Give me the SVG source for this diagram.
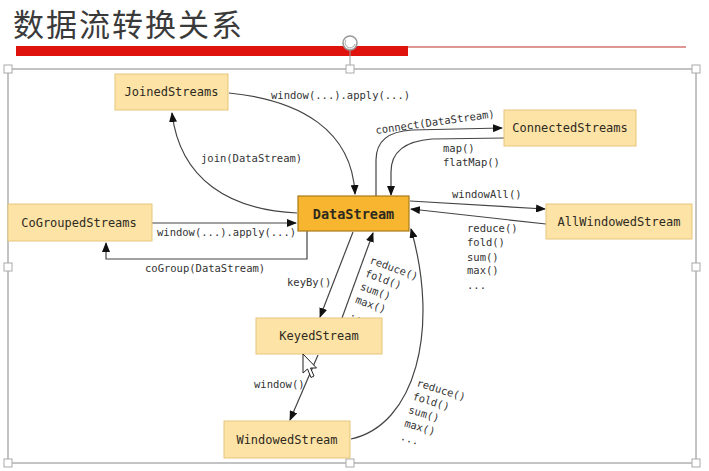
<svg xmlns="http://www.w3.org/2000/svg" width="709" height="471" viewBox="0 0 709 471">
<defs>
<style>
.node rect{fill:#FDE3A6;stroke:#E6C57C;stroke-width:1}
#DataStream rect{fill:#F8B630;stroke:#A87A18;stroke-width:1.2}
.node text{font-family:"DejaVu Sans Mono",monospace;font-size:12px;fill:#2e2a1e;text-anchor:middle;dominant-baseline:central}
#DataStream text{font-size:13.5px;font-weight:bold}
.conn path{fill:none;stroke:#444;stroke-width:1.2}
.lbl{font-family:"DejaVu Sans Mono",monospace;font-size:10.5px;fill:#333}
.handle{fill:#fff;stroke:#aaa;stroke-width:1}
.frame{fill:none;stroke:#b0b0b0;stroke-width:1.5}
</style>
<marker id="ah" markerWidth="10" markerHeight="8" refX="9" refY="4" orient="auto" markerUnits="userSpaceOnUse">
<path d="M0,0 L10,4 L0,8 z" fill="#111"/>
</marker>
</defs>
<rect width="709" height="471" fill="#fff"/>
<!-- title -->
<text x="13" y="36" font-family="'Noto Sans CJK SC',sans-serif" font-size="31" fill="#3a3a3a" letter-spacing="2">数据流转换关系</text>
<line x1="16" y1="47" x2="686" y2="47" stroke="#c0302a" stroke-width="1.2"/>
<rect x="16" y="46" width="392" height="10" fill="#e0120e"/>
<!-- frame -->
<rect class="frame" x="8" y="69" width="688" height="394"/>
<line x1="350" y1="50" x2="350" y2="69" stroke="#999" stroke-width="1"/>
<circle cx="350" cy="43" r="7" fill="#fff" stroke="#999" stroke-width="1.5"/>
<path d="M346,40 A5,5 0 1 0 355,44" fill="none" stroke="#bbb" stroke-width="1.2"/>
<g id="handles">
<rect class="handle" x="4" y="65" width="8" height="8"/>
<rect class="handle" x="346" y="65" width="8" height="8"/>
<rect class="handle" x="692" y="65" width="8" height="8"/>
<rect class="handle" x="4" y="263" width="8" height="8"/>
<rect class="handle" x="692" y="263" width="8" height="8"/>
<rect class="handle" x="4" y="459" width="8" height="8"/>
<rect class="handle" x="346" y="459" width="8" height="8"/>
<rect class="handle" x="692" y="459" width="8" height="8"/>
</g>
<!-- connectors -->
<g class="conn">
<path d="M229,93 C300,100 352,130 355,194" marker-end="url(#ah)"/>
<path d="M297,213 C230,210 180,180 172,113" marker-end="url(#ah)"/>
<path d="M376,196 L376,160 Q376,132 412,130 L502,128" marker-end="url(#ah)"/>
<path d="M504,138 L432,139 Q391,142 391,172 L391,195" marker-end="url(#ah)"/>
<path d="M410,201 L545,209" marker-end="url(#ah)"/>
<path d="M546,224 L411,209" marker-end="url(#ah)"/>
<path d="M152,223 L296,223" marker-end="url(#ah)"/>
<path d="M307,231 L307,259 L106,259 L106,243" marker-end="url(#ah)"/>
<path d="M353,232 L320,317" marker-end="url(#ah)"/>
<path d="M342,318 L373,233" marker-end="url(#ah)"/>
<path d="M318,355 L290,420" marker-end="url(#ah)"/>
<path d="M351,439 C415,425 440,330 411,229" marker-end="url(#ah)"/>
</g>
<!-- labels -->
<g id="labels">
<text class="lbl" x="271" y="99">window(...).apply(...)</text>
<text class="lbl" x="201" y="162">join(DataStream)</text>
<text class="lbl" transform="translate(376,134) rotate(-8)">connect(DataStream)</text>
<text class="lbl" x="443" y="152">map()</text>
<text class="lbl" x="443" y="166">flatMap()</text>
<text class="lbl" x="452" y="198">windowAll()</text>
<text class="lbl" x="467" y="232">reduce()</text>
<text class="lbl" x="467" y="246">fold()</text>
<text class="lbl" x="467" y="261">sum()</text>
<text class="lbl" x="467" y="274">max()</text>
<text class="lbl" x="467" y="289">...</text>
<text class="lbl" x="157" y="236">window(...).apply(...)</text>
<text class="lbl" x="145" y="272">coGroup(DataStream)</text>
<text class="lbl" x="287" y="286">keyBy()</text>
<g transform="translate(369,263) rotate(20)">
<text class="lbl" x="0" y="0">reduce()</text>
<text class="lbl" x="0" y="14">fold()</text>
<text class="lbl" x="0" y="28">sum()</text>
<text class="lbl" x="0" y="42">max()</text>
<text class="lbl" x="0" y="56">...</text>
</g>
<text class="lbl" x="254" y="388">window()</text>
<g transform="translate(416,386) rotate(17)">
<text class="lbl" x="0" y="0">reduce()</text>
<text class="lbl" x="0" y="14">fold()</text>
<text class="lbl" x="0" y="28">sum()</text>
<text class="lbl" x="0" y="42">max()</text>
<text class="lbl" x="0" y="56">...</text>
</g>
</g>
<!-- nodes -->
<g id="JoinedStreams" class="node"><rect x="115" y="74" width="113" height="36"/><text x="171.5" y="92">JoinedStreams</text></g>
<g id="ConnectedStreams" class="node"><rect x="504" y="110" width="132" height="36"/><text x="570" y="128">ConnectedStreams</text></g>
<g id="CoGroupedStreams" class="node"><rect x="8" y="204" width="144" height="37"/><text x="79" y="222.5">CoGroupedStreams</text></g>
<g id="DataStream" class="node"><rect x="298" y="196" width="111" height="35"/><text x="353.5" y="213.5">DataStream</text></g>
<g id="AllWindowedStream" class="node"><rect x="546" y="204" width="146" height="35"/><text x="619" y="221.5">AllWindowedStream</text></g>
<g id="KeyedStream" class="node"><rect x="256" y="318" width="126" height="36"/><text x="319" y="336">KeyedStream</text></g>
<g id="WindowedStream" class="node"><rect x="224" y="421" width="126" height="37"/><text x="287" y="439.5">WindowedStream</text></g>
<!-- mouse cursor -->
<path d="M303,354 L303,373 L307.5,369 L311,377.5 L314,376 L310.5,368 L316.5,368 Z" fill="#fff" stroke="#222" stroke-width="1"/>
</svg>
